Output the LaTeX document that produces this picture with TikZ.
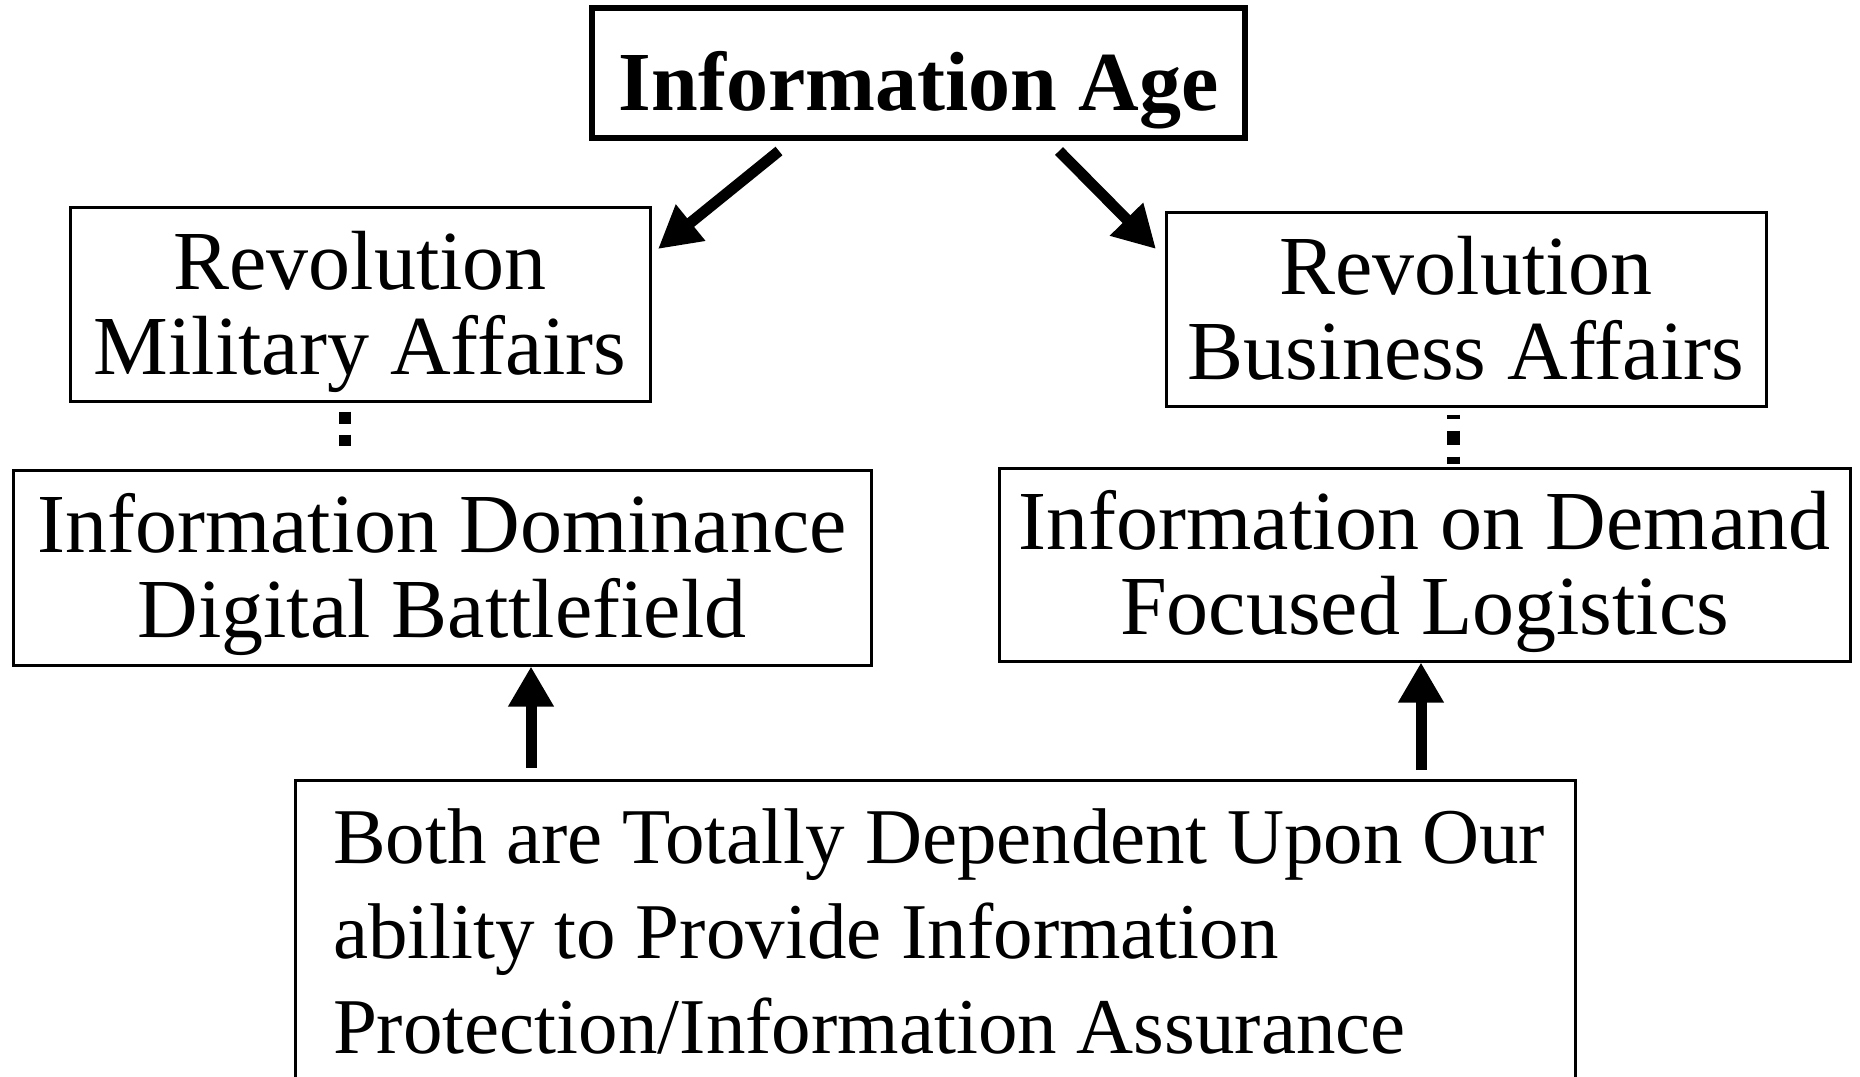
\documentclass[tikz,border=0pt]{standalone}
\usepackage{fontspec}
\setmainfont{Liberation Serif}
\usetikzlibrary{arrows.meta}
\newcommand{\twolines}[2]{\rule{0pt}{75pt}#1\\#2\rule[-20pt]{0pt}{20pt}}
\begin{document}
\begin{tikzpicture}[x=1pt,y=-1pt,
  box/.style={draw, line width=3pt, inner sep=0pt, align=center,
    font=\fontsize{84}{85}\selectfont},
  topbox/.style={draw, line width=6pt, inner sep=0pt,
    minimum width=653pt, minimum height=130pt,
    font=\bfseries\fontsize{84}{85}\selectfont},
  basebox/.style={draw, line width=3pt, inner xsep=0pt, inner ysep=13pt,
    align=left, minimum width=1280pt, font=\fontsize{79}{95}\selectfont},
  bigarrow/.style={line width=11pt, -{Triangle[length=42pt,width=44pt]}},
  uparrow/.style={line width=11pt, -{Triangle[length=40pt,width=43pt]}},
  dotline/.style={line width=12pt}]
\useasboundingbox (0,0) rectangle (1860,1076);
\fill[white] (0,0) rectangle (1860,1076);
\clip (0,0) rectangle (1860,1076);

\node[topbox] (ia) at (918.5,73) {\rule[-21pt]{0pt}{116pt}Information Age};

\node[box, minimum width=580pt, minimum height=194pt] (rma) at (360,304)
  {\twolines{Revolution}{Military Affairs}};
\node[box, minimum width=600pt, minimum height=194pt] (rba) at (1466,309)
  {\twolines{Revolution}{Business Affairs}};
\node[box, minimum width=858pt, minimum height=195pt] (idb) at (442,567.5)
  {\twolines{Information Dominance}{Digital Battlefield}};
\node[box, minimum width=851pt, minimum height=193pt] (iod) at (1424.5,564.5)
  {\twolines{Information on Demand}{Focused Logistics}};

\node[basebox, anchor=north] (dep) at (935,779)
  {\rule{0pt}{70pt}\makebox[1204pt][l]{Both are Totally Dependent Upon Our}\\
   ability to Provide Information\\
   Protection/Information Assurance\rule[-20pt]{0pt}{20pt}};

% diagonal arrows
\coordinate (la0) at (779,151);
\coordinate (la1) at (658,249);
\coordinate (ra0) at (1059,151);
\coordinate (ra1) at (1156,249);
\draw[bigarrow] (la0) -- (la1);
\draw[bigarrow] (ra0) -- (ra1);

% dotted connectors
\coordinate (dl) at ([xshift=-15pt]rma.south);
\draw[dotline, dash pattern=on 0pt off 9pt on 12pt off 11pt on 11pt off 60pt]
  (dl) -- (dl |- idb.north);
\coordinate (dr) at ([xshift=-13pt]rba.south);
\draw[line width=13pt, dash pattern=on 0pt off 7pt on 4pt off 12pt on 14pt off 12pt on 7pt off 60pt]
  (dr) -- (dr |- iod.north);

% vertical arrows
\coordinate (ua) at ([xshift=-404pt]dep.north);
\coordinate (ub) at ([xshift=486pt]dep.north);
\draw[uparrow, shorten <=11pt] (ua) -- (ua |- idb.south);
\draw[uparrow, shorten <=9pt] (ub) -- (ub |- iod.south);
\end{tikzpicture}
\end{document}
